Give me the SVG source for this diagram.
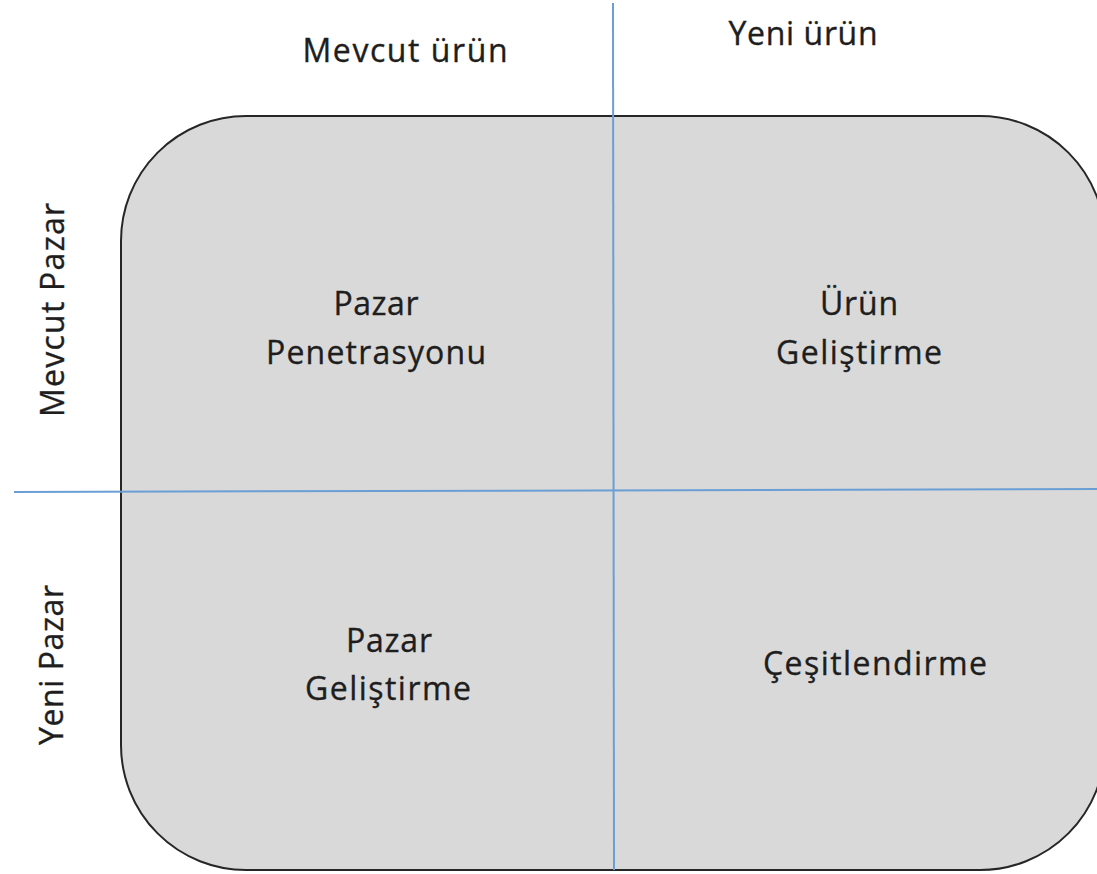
<svg xmlns="http://www.w3.org/2000/svg" width="1097" height="874" viewBox="0 0 1097 874">
  <style>
    .t { font-family: "Open Sans", "Liberation Sans", sans-serif; font-size: 32px; fill: #1e1e1e; stroke: #1e1e1e; stroke-width: 0.35; text-anchor: middle; }
    .box { fill: #d9d9d9; stroke: #262626; stroke-width: 2; }
    .axis { stroke: #6a9fd6; stroke-width: 2; fill: none; }
  </style>
  <rect width="1097" height="874" fill="#ffffff"/>
  <g id="matrix">
    <rect class="box" x="121" y="116" width="984" height="754" rx="125" ry="125"/>
  </g>
  <g id="connectors">
    <line class="axis" x1="613" y1="3" x2="614" y2="870"/>
    <line class="axis" x1="14" y1="492" x2="1097" y2="489"/>
  </g>
  <g id="header-mevcut-urun">
    <text class="t" x="405" y="62" textLength="205" lengthAdjust="spacing">Mevcut ürün</text>
  </g>
  <g id="header-yeni-urun">
    <text class="t" x="803" y="45" textLength="149" lengthAdjust="spacing">Yeni ürün</text>
  </g>
  <g id="header-mevcut-pazar">
    <text class="t" transform="translate(64,310) rotate(-90)" x="0" y="0" textLength="214" lengthAdjust="spacing">Mevcut Pazar</text>
  </g>
  <g id="header-yeni-pazar">
    <text class="t" transform="translate(63,665) rotate(-90)" x="0" y="0" textLength="160" lengthAdjust="spacing">Yeni Pazar</text>
  </g>
  <g id="q-pazar-penetrasyonu">
    <text class="t" x="376" y="315" textLength="85" lengthAdjust="spacing">Pazar</text>
    <text class="t" x="376" y="364" textLength="220" lengthAdjust="spacing">Penetrasyonu</text>
  </g>
  <g id="q-urun-gelistirme">
    <text class="t" x="859" y="315" textLength="78" lengthAdjust="spacing">Ürün</text>
    <text class="t" x="859" y="364" textLength="166" lengthAdjust="spacing">Geliştirme</text>
  </g>
  <g id="q-pazar-gelistirme">
    <text class="t" x="389" y="652" textLength="86" lengthAdjust="spacing">Pazar</text>
    <text class="t" x="388" y="700" textLength="166" lengthAdjust="spacing">Geliştirme</text>
  </g>
  <g id="q-cesitlendirme">
    <text class="t" x="875" y="675" textLength="224" lengthAdjust="spacing">Çeşitlendirme</text>
  </g>
</svg>
